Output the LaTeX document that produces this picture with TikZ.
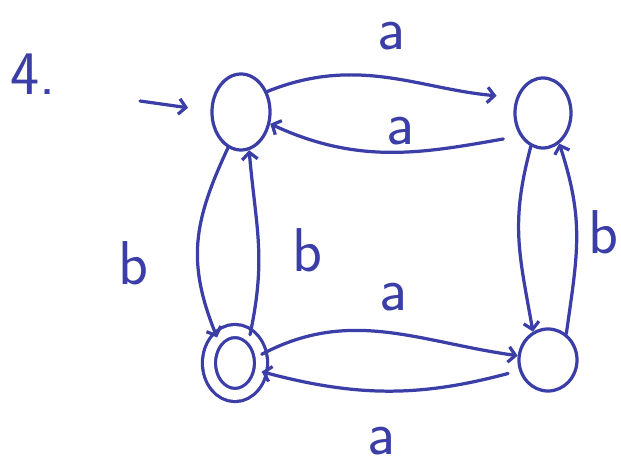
\documentclass[tikz,border=0pt]{standalone}
\usetikzlibrary{arrows.meta,positioning,shapes.geometric}
\definecolor{InkBlue}{HTML}{3A3EA6}

\begin{document}
\begin{tikzpicture}[x=0.025cm,y=-0.025cm,
  stateb/.style={ellipse,draw=InkBlue,line width=2.3pt,inner sep=0pt},
  finalb/.style={stateb,double,double distance=7pt},
  edge/.style={draw=InkBlue,line width=2.3pt,line cap=round,-{Straight Barb[length=5pt,width=11pt]}},
  lbl/.style={text=InkBlue,inner sep=0pt,font=\fontsize{44}{46}\selectfont\sffamily}]
\useasboundingbox (0,0) rectangle (621,474);
% states
\node[stateb,minimum width=1.45cm,minimum height=1.9cm] (q0) at (241,112) {};
\node[stateb,minimum width=1.4cm,minimum height=1.75cm] (q1) at (543,113) {};
\node[finalb,minimum width=1.3cm,minimum height=1.6cm] (q2) at (235,363) {};
\node[stateb,minimum width=1.45cm,minimum height=1.55cm] (q3) at (548,360) {};
\coordinate (start) at (140,101);
% transitions
\draw[edge,shorten >=16pt] (start) -- (q0.178);
\draw[edge,shorten >=14pt] (q0.38) to[out=22,in=175] (q1.150);
\draw[edge,shorten <=12pt] (q1.225) to[out=190,in=-25] (q0.-22);
\draw[edge] (q0.250) to[out=245,in=112,looseness=1.1] (q2.125);
\draw[edge] (q2.62) to[out=78,in=-85,looseness=1.1] (q0.-78);
\draw[edge] (q2.18) to[out=28,in=172] (q3.172);
\draw[edge,shorten <=8pt] (q3.200) to[out=195,in=-15] (q2.-18);
\draw[edge] (q1.250) to[out=255,in=100,looseness=1.1] (q3.118);
\draw[edge] (q3.55) to[out=82,in=-72,looseness=1.1] (q1.-62);
% labels
\node[lbl] (num) at (33,74) {4.};
\node[lbl] (a1) at (391,36) {a};
\node[lbl] (a2) at (400,131) {a};
\node[lbl] (b1) at (133,263) {b};
\node[lbl] (b2) at (307,250) {b};
\node[lbl] (a3) at (393,297) {a};
\node[lbl] (a4) at (381,441) {a};
\node[lbl] (b3) at (603,232) {b};
\end{tikzpicture}
\end{document}
